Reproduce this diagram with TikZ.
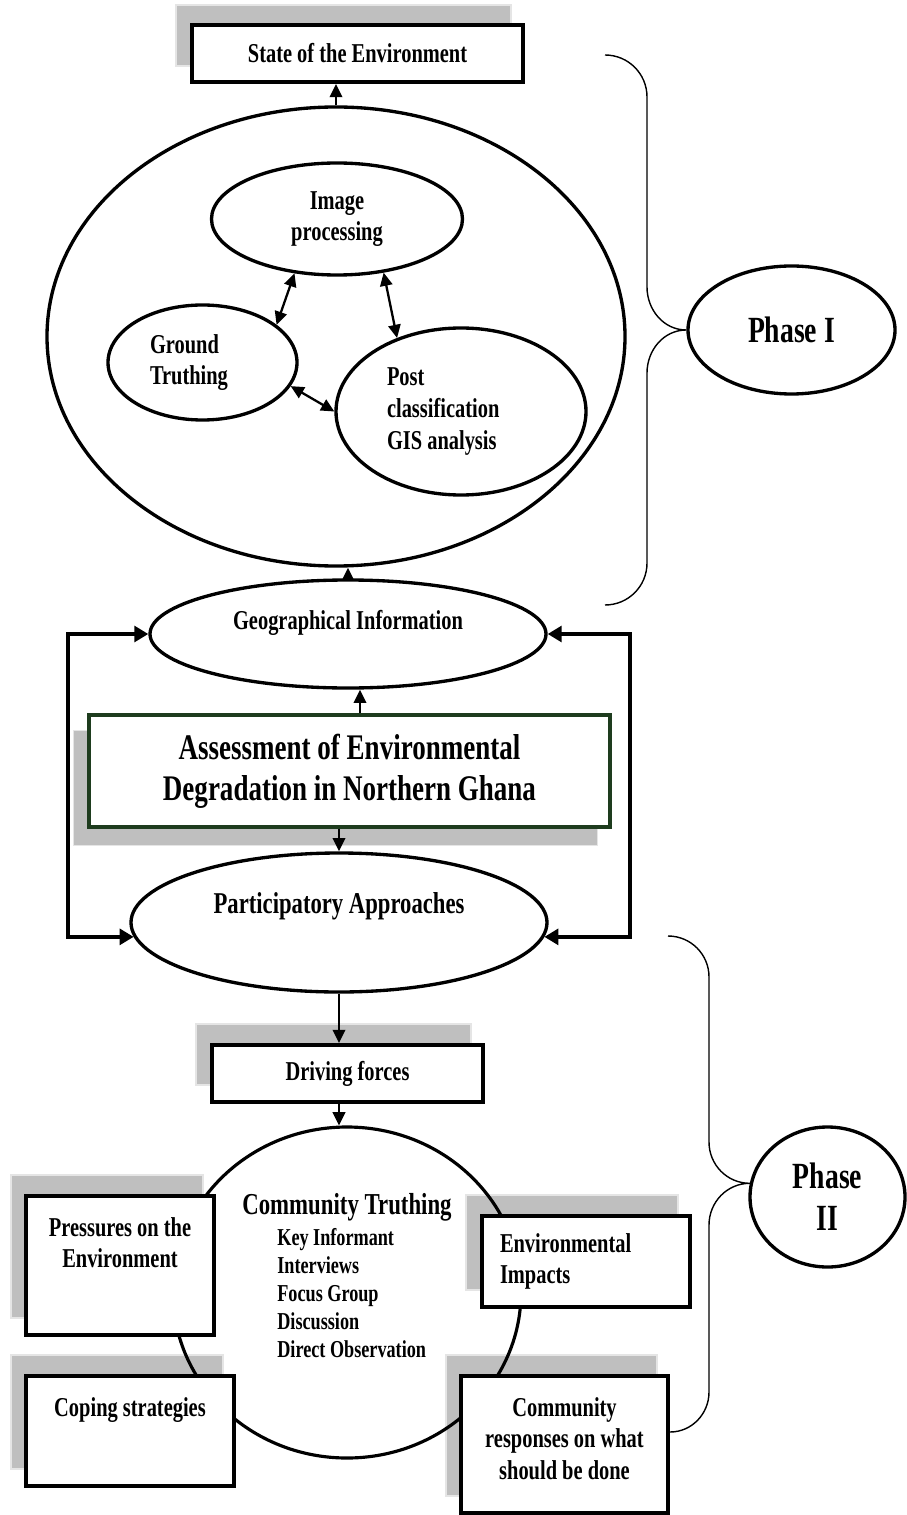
\documentclass[tikz,border=0pt]{standalone}
\usepackage{fontspec}
\setmainfont{Liberation Serif}[FakeStretch=0.75]
\usetikzlibrary{shapes.geometric,arrows.meta,positioning}
\definecolor{boxgreen}{RGB}{30,60,30}
\pgfdeclarelayer{back}
\pgfsetlayers{back,main}
\begin{document}
\begin{tikzpicture}[x=0.2mm,y=-0.2mm,
	lbl/.style={font=\fontsize{15.5}{18}\selectfont\bfseries, align=center},
	box/.style={draw, line width=2.2pt, fill=white, inner sep=0pt},
	oval/.style={draw, ellipse, line width=1.9pt, inner sep=0pt},
	shadowbox/.style={fill=black!25, draw=black!10, line width=0.8pt},
	arr/.style={-{Triangle[length=7.5pt,width=7pt]}, line width=1.4pt},
	twoway/.style={{Triangle[length=7.5pt,width=7pt]}-{Triangle[length=7.5pt,width=7pt]}, line width=1.3pt},
	sideloop/.style={{Triangle[length=8pt,width=9pt]}-{Triangle[length=8pt,width=9pt]}, line width=2.2pt},
	brace/.style={line width=0.8pt}]
	\useasboundingbox (0,0) rectangle (906,1515);

	\node[oval, minimum width=115.6mm, minimum height=91.8mm] (bigell) at (336,336.5) {};
	\node[box, lbl, minimum width=66.2mm, minimum height=11.4mm] (state) at (357.5,53.5) {State of the Environment};
	\node[oval, lbl, minimum width=50.2mm, minimum height=22.4mm] (imgproc) at (337,219) {Image\\processing};
	\node[oval, lbl, align=flush left, text width=21mm, minimum width=37.8mm, minimum height=23mm] (ground) at (202.5,362.5) {Ground\\Truthing};
	\node[oval, lbl, align=flush left, text width=29.6mm, minimum width=50mm, minimum height=33.4mm] (postgis) at (461,411.5) {Post\\classification\\GIS analysis};
	\node[oval, lbl, font=\fontsize{21}{24}\selectfont\bfseries, minimum width=41.4mm, minimum height=25.6mm] (phase1) at (791.5,330) {Phase I};

	\draw[arr] (bigell.north) -- (bigell.north |- state.south);
	\draw[twoway] (imgproc.232) -- (ground.27);
	\draw[twoway] (imgproc.311) -- (postgis.131);
	\draw[twoway] (ground.345) -- (postgis.west);

	\coordinate (b1top) at (605,55);
	\coordinate (b1bot) at (605,605);
	\draw[brace] (b1top) to[out=0,in=90] (647,97) -- (647,287) to[out=-90,in=180] (phase1.west)
		to[out=180,in=90] (647,373) -- (647,563) to[out=-90,in=0] (b1bot);

	\node[oval, lbl, text depth=16pt, minimum width=79.2mm, minimum height=21.6mm] (geo) at (348,634) {Geographical Information};
	\node[box, lbl, draw=boxgreen, line width=1.8pt, font=\fontsize{20.5}{23.5}\selectfont\bfseries, minimum width=104.2mm, minimum height=22.4mm] (assess) at (349.5,771) {Assessment of Environmental\\Degradation in Northern Ghana};
	\node[oval, lbl, font=\fontsize{17.2}{20}\selectfont\bfseries, text depth=22pt, minimum width=83.2mm, minimum height=27.8mm] (pa) at (339,922.5) {Participatory Approaches};

	\draw[arr] (geo.north) -- (geo.north |- bigell.south);
	\draw[arr] ([xshift=2.1mm]assess.north) -- ([xshift=2.1mm]assess.north |- geo.south);
	\draw[arr] (assess.south -| pa.north) -- (pa.north);
	\draw[sideloop] (geo.west) -- ++(-80,0) |- (pa.184);
	\draw[sideloop] (geo.east) -- ++(82,0) |- (pa.356);

	\node[box, lbl, minimum width=54.2mm, minimum height=11.4mm] (drive) at (347.5,1073.5) {Driving forces};
	\draw[arr] (pa.south) -- (pa.south |- drive.north);

	\node[draw, ellipse, line width=1.8pt, minimum width=69.6mm, minimum height=66.2mm, inner sep=0pt] (comm) at (347,1292.5) {};
	\draw[arr] (pa.south |- drive.south) -- (pa.south |- comm.north);
	\node[lbl, font=\fontsize{17.3}{20}\selectfont\bfseries] (ctitle) at (347,1207) {Community Truthing};
	\node[lbl, font=\fontsize{13.8}{16}\selectfont\bfseries, align=left, anchor=north west, inner sep=0pt] (clist) at (277,1228) {Key Informant\\Interviews\\Focus Group\\Discussion\\Direct Observation};

	\node[box, minimum width=37.6mm, minimum height=27.8mm] (press) at (120,1265.5) {};
	\node[box, minimum width=41.6mm, minimum height=22mm] (coping) at (130,1431) {};
	\node[box, lbl, align=flush left, text width=34.4mm, minimum width=41.6mm, minimum height=18.2mm] (envimp) at (586,1261.5) {Environmental\\Impacts};
	\node[box, minimum width=41.4mm, minimum height=27.4mm] (commresp) at (564.5,1444.5) {};
	\node[lbl, below=4.6mm of press.north, inner sep=0pt] (presstxt) {Pressures on the\\Environment};
	\node[lbl, below=4.6mm of coping.north, inner sep=0pt] (copingtxt) {Coping strategies};
	\node[lbl, below=4.6mm of commresp.north, inner sep=0pt] (resptxt) {Community\\responses on what\\should be done};

	\node[oval, lbl, font=\fontsize{21}{24}\selectfont\bfseries, minimum width=31mm, minimum height=28mm] (phase2) at (827.5,1197) {Phase\\II};
	\coordinate (b2top) at (668,936);
	\coordinate (b2bot) at (670,1432);
	\draw[brace] (b2top) to[out=0,in=90] (709,977) -- (709,1142) to[out=-90,in=180] (phase2.170)
		to[out=180,in=90] (709,1225) -- (709,1392) to[out=-90,in=0] (b2bot);

	\begin{pgfonlayer}{back}
		\foreach \b/\dx/\dy in {state/-14/-18, assess/-14/17, drive/-14/-19, press/-13/-19, coping/-13/-19, envimp/-14/-19, commresp/-13/-19}
			\filldraw[shadowbox] ([shift={(\dx,\dy)}]\b.south west) rectangle ([shift={(\dx,\dy)}]\b.north east);
	\end{pgfonlayer}
\end{tikzpicture}
\end{document}
